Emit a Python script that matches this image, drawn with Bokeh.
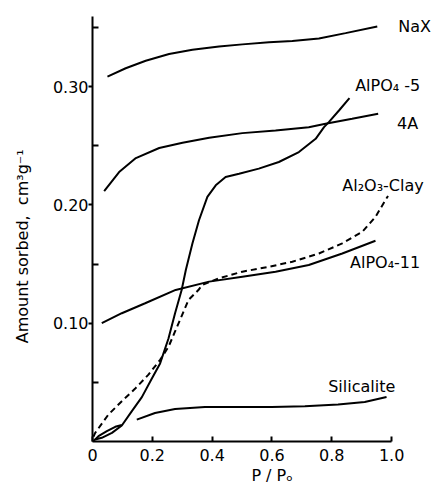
from bokeh.plotting import figure
from bokeh.models import FixedTicker, PrintfTickFormatter, Label
from bokeh.embed import file_html
from bokeh.resources import INLINE

# ---- data (P/P0, amount sorbed cm3/g) ----
nax_x = [0.050, 0.111, 0.178, 0.256, 0.334, 0.423, 0.501, 0.590, 0.668, 0.757, 0.846, 0.952]
nax_y = [0.3083, 0.3154, 0.3218, 0.3274, 0.3311, 0.3339, 0.3356, 0.3373, 0.3384, 0.3406, 0.3451, 0.3507]

a4_x = [0.039, 0.089, 0.145, 0.223, 0.301, 0.390, 0.501, 0.612, 0.723, 0.779, 0.868, 0.955]
a4_y = [0.2115, 0.2277, 0.2395, 0.2480, 0.2525, 0.2567, 0.2606, 0.2628, 0.2656, 0.2685, 0.2727, 0.2769]

alpo5_x = [0.000, 0.009, 0.031, 0.065, 0.098, 0.131, 0.165, 0.198, 0.226, 0.254, 0.276, 0.298,
           0.312, 0.334, 0.356, 0.384, 0.412, 0.445, 0.490, 0.556, 0.623, 0.690, 0.746, 0.774,
           0.790, 0.824, 0.859]
alpo5_y = [0.0000, 0.0017, 0.0031, 0.0073, 0.0135, 0.0255, 0.0375, 0.0530, 0.0660, 0.0870, 0.1084, 0.1280,
           0.1449, 0.1674, 0.1870, 0.2067, 0.2165, 0.2235, 0.2263, 0.2306, 0.2362, 0.2446, 0.2558, 0.2657,
           0.2699, 0.2797, 0.2901]

alpo5_des_x = [0.009, 0.020, 0.048, 0.076, 0.098]
alpo5_des_y = [0.0017, 0.0045, 0.0087, 0.0124, 0.0140]

clay_x = [0.003, 0.009, 0.053, 0.098, 0.142, 0.187, 0.226, 0.254, 0.276, 0.298, 0.321, 0.354,
          0.367, 0.423, 0.501, 0.590, 0.668, 0.757, 0.835, 0.902, 0.946, 0.979, 0.988]
clay_y = [0.0040, 0.0073, 0.0227, 0.0340, 0.0445, 0.0565, 0.0690, 0.0800, 0.0930, 0.1060, 0.1196, 0.1280,
          0.1323, 0.1379, 0.1435, 0.1477, 0.1519, 0.1589, 0.1674, 0.1772, 0.1898, 0.2039, 0.2075]

alpo11_x = [0.031, 0.098, 0.176, 0.278, 0.390, 0.501, 0.612, 0.723, 0.835, 0.946]
alpo11_y = [0.1000, 0.1084, 0.1168, 0.1281, 0.1351, 0.1393, 0.1435, 0.1491, 0.1589, 0.1696]

sil_x = [0.148, 0.209, 0.276, 0.376, 0.487, 0.599, 0.710, 0.821, 0.910, 0.983]
sil_y = [0.0185, 0.0241, 0.0275, 0.0292, 0.0292, 0.0292, 0.0298, 0.0312, 0.0334, 0.0376]

x_ticks = [0, 0.2, 0.4, 0.6, 0.8, 1.0]
y_ticks = [0.1, 0.2, 0.3]
y_minor = [0.05, 0.15, 0.25, 0.35]

FONT = "DejaVu Sans"
NB = "\u00a0"

p = figure(width=436, height=487, x_range=(0, 1.15), y_range=(0, 0.36),
           output_backend="svg", toolbar_location=None,
           min_border_left=92, min_border_right=0, min_border_top=15, min_border_bottom=45)
p.outline_line_color = None
p.grid.visible = False
p.background_fill_color = "white"

lw = 2
p.line(nax_x, nax_y, line_color="black", line_width=lw)
p.line(a4_x, a4_y, line_color="black", line_width=lw)
p.line(alpo5_x, alpo5_y, line_color="black", line_width=lw)
p.line(alpo5_des_x, alpo5_des_y, line_color="black", line_width=lw)
p.line(clay_x, clay_y, line_color="black", line_width=lw, line_dash="6 4")
p.line(alpo11_x, alpo11_y, line_color="black", line_width=lw)
p.line(sil_x, sil_y, line_color="black", line_width=lw)

# x axis
xa = p.xaxis[0]
xa.ticker = FixedTicker(ticks=x_ticks, minor_ticks=[])
xa.formatter = PrintfTickFormatter(format="%.1f")
xa.major_label_overrides = {0: "0"}
xa.bounds = (0, 1.0)
xa.major_tick_in = 5
xa.major_tick_out = 0
xa.minor_tick_in = 0
xa.minor_tick_out = 0
xa.axis_line_width = 2
xa.major_tick_line_width = 2
xa.major_label_text_font = FONT
xa.major_label_text_font_size = "16px"
xa.major_label_text_color = "black"
xa.major_label_standoff = 7
xa.axis_label = NB * 3 + "P / P\u2092"
xa.axis_label_text_font = FONT
xa.axis_label_text_font_size = "16px"
xa.axis_label_text_font_style = "normal"
xa.axis_label_text_color = "black"
xa.axis_label_standoff = 2

# y axis
ya = p.yaxis[0]
ya.ticker = FixedTicker(ticks=y_ticks, minor_ticks=y_minor)
ya.formatter = PrintfTickFormatter(format="%.2f")
ya.bounds = (0, 0.359)
ya.major_tick_in = 0
ya.major_tick_out = 4
ya.minor_tick_in = 6
ya.minor_tick_out = 0
ya.axis_line_width = 2
ya.major_tick_line_width = 2
ya.minor_tick_line_width = 2
ya.minor_tick_line_color = "black"
ya.major_label_text_font = FONT
ya.major_label_text_font_size = "16px"
ya.major_label_text_color = "black"
ya.major_label_standoff = 0
ya.axis_label = "Amount sorbed," + NB * 2 + "cm\u00b3g\u207b\u00b9" + NB * 7
ya.axis_label_text_font = FONT
ya.axis_label_text_font_size = "16px"
ya.axis_label_text_font_style = "normal"
ya.axis_label_text_color = "black"
ya.axis_label_standoff = 18

def add_label(x, y, text):
    p.add_layout(Label(x=x, y=y, text=text, text_font=FONT, text_font_size="16px",
                       text_color="black", text_baseline="middle", text_align="left"))

add_label(1.022, 0.351, "NaX")
add_label(0.878, 0.301, "AlPO\u2084 -5")
add_label(1.018, 0.269, "4A")
add_label(0.835, 0.2165, "Al\u2082O\u2083-Clay")
add_label(0.861, 0.151, "AlPO\u2084-11")
add_label(0.788, 0.0463, "Silicalite")

open("out.html", "w").write(file_html(p, INLINE))
